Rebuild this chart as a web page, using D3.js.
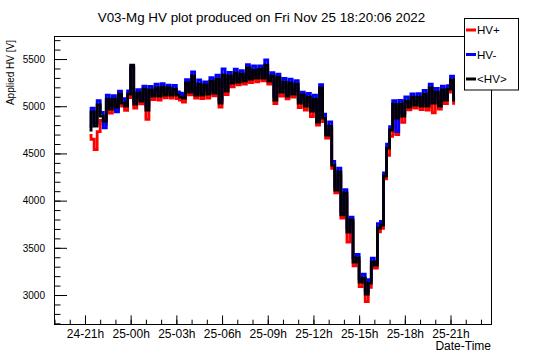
<!DOCTYPE html>
<html><head><meta charset="utf-8">
<script src="https://cdn.jsdelivr.net/npm/d3@7"></script>
<style>
body{margin:0;background:#fff}
svg{display:block}
text{font-family:"Liberation Sans",Arial,Helvetica,sans-serif;fill:#000}
</style>
</head><body>
<svg id="chart" width="546" height="362"></svg>
<script>
const chartTitle = "V03-Mg HV plot produced on Fri Nov 25 18:20:06 2022";
const yTitle = "Applied HV [V]";
const xTitle = "Date-Time";
const seriesNames = ["HV+", "HV-", "<HV>"];
const seriesColors = ["#ff0000", "#0000ff", "#000000"];
const startTime = "2022-11-24T21:18:00Z";
const stepMinutes = 12;

const hvPlus = [4690,4650,4540,4730,4851,4805,5044,4928,5041,4962,5089,5001,4957,5091,5400,4981,5105,5025,5142,4860,
5127,5070,5161,5066,5168,5089,5153,5086,5137,5081,5065,5045,5211,5120,5280,5086,5190,5081,5193,5087,
5232,5110,5248,4990,5285,5123,5288,5204,5317,5226,5301,5234,5360,5250,5351,5257,5359,5269,5396,5234,
5275,5028,5277,5108,5221,5078,5206,5096,5190,4985,5087,4960,5062,4890,5036,4800,5148,4837,4663,4748,
4342,4082,4263,3815,4036,3560,3763,3308,3357,3090,3140,2930,3082,3312,3286,3668,3707,4231,4480,4680,
4978,4700,4991,4830,5020,4962,5057,4980,5052,4964,5097,4960,5158,4930,5110,4969,5127,5028,5150,5236,5031];

const hvMinus = [4783,4979,4820,5058,4934,4770,5118,5006,5111,4940,5159,5079,5040,5162,5420,5059,5175,5095,5212,5005,
5210,5141,5235,5144,5238,5159,5223,5164,5220,5152,5139,5123,5281,5190,5365,5149,5280,5157,5258,5171,
5303,5175,5328,5064,5395,5206,5358,5279,5394,5292,5376,5307,5440,5318,5428,5337,5427,5341,5490,5303,
5355,5106,5339,5195,5294,5141,5288,5165,5270,5074,5149,5047,5135,4982,5118,4869,5228,4915,4725,4835,
4415,4145,4345,3884,4116,3707,3825,3395,3430,3171,3222,3047,3162,3390,3348,3755,3780,4294,4599,4784,
5058,4730,5063,4926,5100,5030,5130,5055,5133,5037,5169,5032,5235,5079,5188,5035,5214,5102,5217,5318,5096];

const hvMean = [4748,4939,4790,5013,4896,4843,5076,4970,5076,4992,5129,5034,5002,5129,5436,5023,5140,5055,5182,4960,
5172,5108,5193,5108,5203,5119,5193,5119,5182,5119,5097,5087,5246,5150,5320,5119,5235,5119,5225,5129,
5267,5140,5288,5034,5330,5161,5320,5246,5352,5256,5341,5267,5405,5288,5383,5299,5394,5299,5436,5267,
5320,5066,5309,5150,5256,5108,5246,5129,5235,5034,5119,5002,5097,4949,5076,4833,5193,4875,4695,4790,
4377,4112,4303,3848,4081,3667,3795,3350,3392,3138,3180,3011,3127,3350,3318,3710,3742,4261,4557,4748,
5023,4875,5023,4896,5055,4992,5097,5013,5097,5002,5129,5002,5193,5034,5150,5002,5172,5066,5182,5278,5066];

const yMajorTicks = [3000, 3500, 4000, 4500, 5000, 5500];
const xLabelTicks = ["2022-11-24T21:00:00Z","2022-11-25T00:00:00Z","2022-11-25T03:00:00Z","2022-11-25T06:00:00Z",
  "2022-11-25T09:00:00Z","2022-11-25T12:00:00Z","2022-11-25T15:00:00Z","2022-11-25T18:00:00Z","2022-11-25T21:00:00Z"];
const xDomain = ["2022-11-24T18:58:00Z", "2022-11-25T23:39:30Z"];
const yDomain = [2693, 5744];

const svg = d3.select("#chart");
const L = 54, R = 491, T = 36, B = 324;

const x = d3.scaleUtc().domain(xDomain.map(d => new Date(d))).range([L, R]);
const y = d3.scaleLinear().domain(yDomain).range([B, T]);

const t0 = new Date(startTime).getTime();
function toPoints(arr) {
  return arr.map((v, i) => ({t: new Date(t0 + i * stepMinutes * 60000), v}));
}
const series = [hvPlus, hvMinus, hvMean].map(toPoints);

// data lines
const line = d3.line().x(d => x(d.t)).y(d => y(d.v)).curve(d3.curveStep);
svg.append("g").selectAll("path").data(series).join("path")
  .attr("d", line)
  .attr("fill", "none")
  .attr("stroke", (d, i) => seriesColors[i])
  .attr("stroke-width", 2.8)
  .attr("stroke-linejoin", "miter");

// frame
svg.append("rect").attr("x", L + 0.5).attr("y", T + 0.5).attr("width", R - L).attr("height", B - T)
  .attr("fill", "none").attr("stroke", "#000").attr("stroke-width", 1);

// y axis
const yMinor = d3.range(2700, 5744, 100);
const gyMinor = svg.append("g").attr("transform", `translate(${L},0)`)
  .call(d3.axisLeft(y).tickValues(yMinor).tickSize(-6.5).tickFormat(""));
gyMinor.select(".domain").remove();
const gy = svg.append("g").attr("transform", `translate(${L},0)`)
  .call(d3.axisLeft(y).tickValues(yMajorTicks).tickSize(-13).tickPadding(9).tickFormat(d3.format("d")));
gy.select(".domain").remove();
gy.selectAll("text").attr("font-size", 10).style("font-family", '"Liberation Sans",Arial,sans-serif');
svg.selectAll(".tick line").attr("stroke", "#000");

// x axis
const hourTicks = d3.utcHour.range(x.domain()[0], x.domain()[1]);
const gxMinor = svg.append("g").attr("transform", `translate(0,${B})`)
  .call(d3.axisBottom(x).tickValues(hourTicks).tickSize(-4.3).tickFormat(""));
gxMinor.select(".domain").remove();
const gx = svg.append("g").attr("transform", `translate(0,${B})`)
  .call(d3.axisBottom(x).tickValues(xLabelTicks.map(d => new Date(d))).tickSize(-8.6).tickPadding(5)
    .tickFormat(d3.utcFormat("%d-%Hh")));
gx.select(".domain").remove();
gx.selectAll("text").attr("font-size", 12).style("font-family", '"Liberation Sans",Arial,sans-serif');
svg.selectAll(".tick line").attr("stroke", "#000");

// titles
svg.append("text").attr("x", 261.5).attr("y", 22).attr("text-anchor", "middle")
  .attr("font-size", 13.4).text(chartTitle);
svg.append("text").attr("x", R).attr("y", 350).attr("text-anchor", "end")
  .attr("font-size", 12).text(xTitle);
svg.append("text").attr("transform", "translate(13.5,40) rotate(-90)").attr("text-anchor", "end")
  .attr("font-size", 10).text(yTitle);

// legend
const lg = svg.append("g");
lg.append("rect").attr("x", 464.5).attr("y", 18.5).attr("width", 54).attr("height", 71.5)
  .attr("fill", "#fff").attr("stroke", "#000");
const ly = [30, 54.5, 79];
seriesNames.forEach((name, i) => {
  lg.append("line").attr("x1", 466).attr("x2", 476).attr("y1", ly[i]).attr("y2", ly[i])
    .attr("stroke", seriesColors[i]).attr("stroke-width", 3);
  lg.append("text").attr("x", 477).attr("y", ly[i]).attr("dy", "0.36em")
    .attr("font-size", 11.6).text(name);
});
</script>
</body></html>
